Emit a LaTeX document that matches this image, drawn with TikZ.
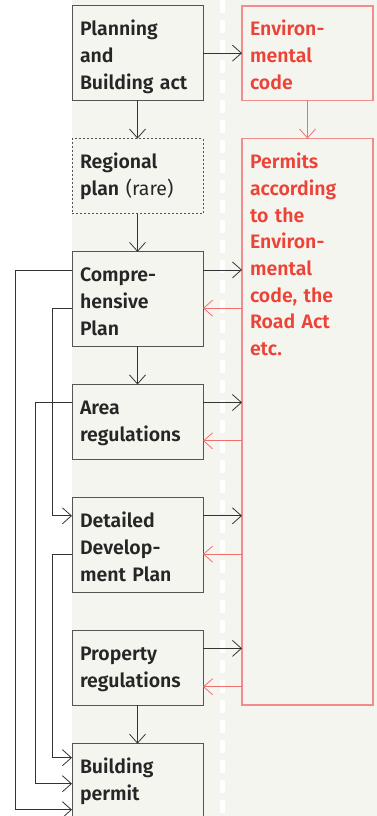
\documentclass[tikz,border=0pt]{standalone}
\usepackage{fontspec}
\setmainfont{Fira Sans}[BoldFont={Fira Sans SemiBold}]
\usepackage{tikz}
\usetikzlibrary{positioning, arrows.meta}
\definecolor{bgray}{HTML}{F5F5F0}
\definecolor{dtext}{HTML}{262626}
\definecolor{dline}{HTML}{555555}
\definecolor{rtext}{HTML}{EC4338}
\definecolor{rline}{HTML}{F07070}
\definecolor{rframe}{HTML}{F28C8C}

\begin{document}
\begin{tikzpicture}[
    font=\fontsize{19.5}{26.7}\selectfont\bfseries,
    box/.style={rectangle, draw=dline, line width=1pt, fill=bgray, text=dtext, text width=115pt, align=left, inner xsep=8pt, inner ysep=0pt, outer sep=0pt, text height=30pt, text depth=64.3pt},
    box2/.style={text depth=45pt},
    rbox/.style={box, draw=rframe, line width=1.4pt, text=rtext},
    arr/.style={-{Straight Barb[length=9pt, width=16pt]}, line width=0.8pt, black!80},
    rarr/.style={-{Straight Barb[length=9pt, width=16pt]}, line width=0.8pt, rline},
]
\clip (0,0) rectangle (377pt,-816pt);
\fill[bgray] (72pt,0) rectangle (377pt,-816pt);
\draw[white, line width=5pt, dash pattern=on 13pt off 7pt] (222.7pt,0) -- (222.7pt,-816pt);

\node[box, anchor=north west] (pba) at (72pt,-6pt) {Planning\\and\\Building act};
\node[box, box2, dash pattern=on 2pt off 2pt, below=38.3pt of pba] (reg) {Regional\\plan {\mdseries(rare)}};
\node[box, below=38.3pt of reg] (comp) {Compre-\\hensive\\Plan};
\node[box, box2, below=38.3pt of comp] (area) {Area\\regulations};
\node[box, below=38.3pt of area] (ddp) {Detailed\\Develop-\\ment Plan};
\node[box, box2, below=38.3pt of ddp] (prop) {Property\\regulations};
\node[box, box2, below=38.3pt of prop] (bp) {Building\\permit};

\node[rbox, right=39pt of pba] (env) {Environ-\\mental\\code};
\node[rbox, text depth=536.2pt, below=38.3pt of env] (perm) {Permits\\according\\to the\\Environ-\\mental\\code, the\\Road Act\\etc.};

\draw[arr] (pba) -- (env);
\draw[rarr] (env) -- (perm);
\draw[arr] (pba) -- (reg);
\draw[arr] (reg) -- (comp);
\draw[arr] (comp) -- (area);
\draw[arr] (prop) -- (bp);

\foreach \src in {comp, area, ddp, prop} {
  \draw[arr] ([yshift=-18pt]\src.north east) -- ([yshift=-18pt]\src.north east -| perm.west);
  \draw[rarr] ([yshift=-56.3pt]\src.north east -| perm.west) -- ([yshift=-56.3pt]\src.north east);
}

\draw[arr] ([yshift=-18.7pt]comp.north west) -- ++(-57pt,0) |- ([yshift=-66pt]bp.north west);
\draw[arr] ([yshift=-56.3pt]comp.north west) -- ++(-19.3pt,0) |- ([yshift=-18pt]ddp.north west);
\draw[arr] ([yshift=-18pt]area.north west) -- ++(-37pt,0) |- ([yshift=-40pt]bp.north west);
\draw[arr] ([yshift=-56.3pt]ddp.north west) -- ++(-19.3pt,0) |- ([yshift=-14pt]bp.north west);
\end{tikzpicture}
\end{document}
